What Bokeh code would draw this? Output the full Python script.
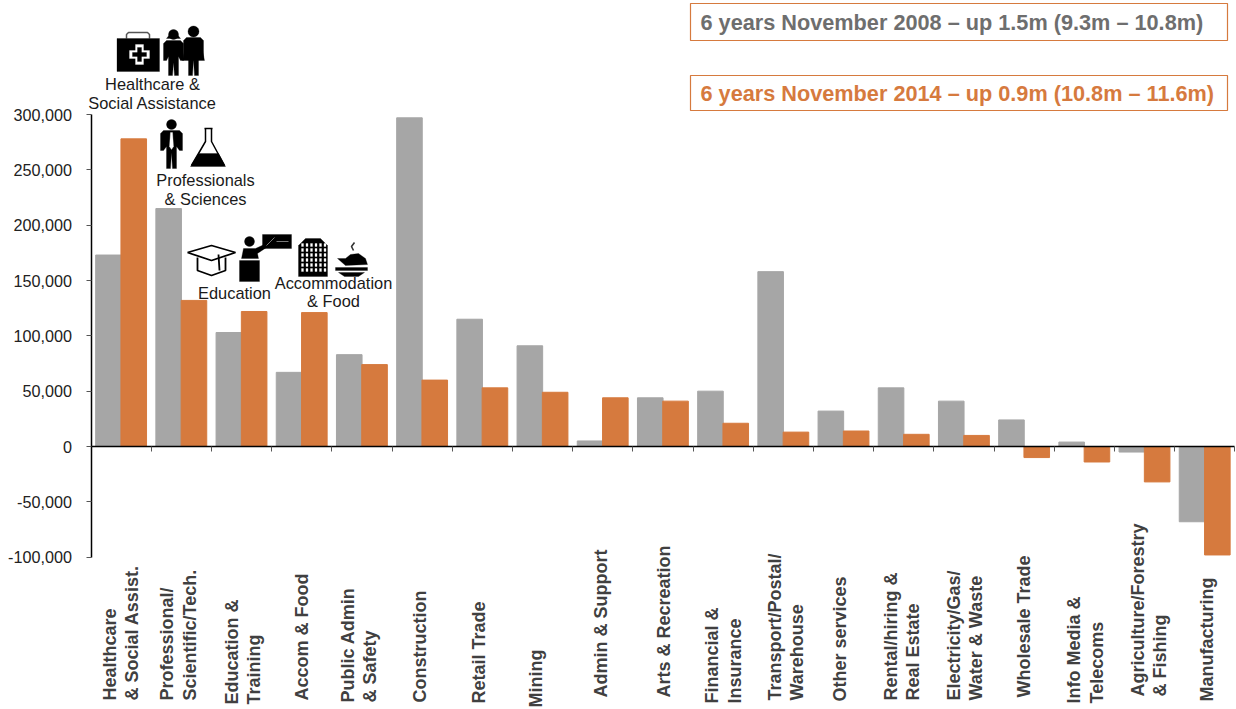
import math
from bokeh.core.properties import value
from bokeh.embed import file_html
from bokeh.models import FixedTicker, LinearAxis, NumeralTickFormatter, Range1d
from bokeh.plotting import figure
from bokeh.resources import INLINE

# ---------- data ----------
categories = ["Healthcare\n& Social Assist.", "Professional/\nScientific/Tech.", "Education &\nTraining",
              "Accom  & Food", "Public Admin\n& Safety", "Construction", "Retail Trade", "Mining",
              "Admin & Support", "Arts  & Recreation", "Financial &\nInsurance", "Transport/Postal/\nWarehouse",
              "Other services", "Rental/hiring &\nReal Estate", "Electricity/Gas/\nWater & Waste",
              "Wholesale Trade", "Info Media &\nTelecoms", "Agriculture/Forestry\n& Fishing", "Manufacturing"]
series_2008 = [173000, 215000, 103000, 67000, 83000, 297000, 115000, 91000, 5000, 44000,
               50000, 158000, 32000, 53000, 41000, 24000, 4000, -5000, -68000]
series_2014 = [278000, 132000, 122000, 121000, 74000, 60000, 53000, 49000, 44000, 41000,
               21000, 13000, 14000, 11000, 10000, -10000, -14000, -32000, -98000]
y_ticks = [-100000, -50000, 0, 50000, 100000, 150000, 200000, 250000, 300000]
box_texts = ["6 years November 2008 – up 1.5m (9.3m – 10.8m)", "6 years November 2014 – up 0.9m (10.8m – 11.6m)"]

# ---------- layout ----------
W, H = 1236, 709
STEP = 60.2            # page px per category
AX_X, ZERO_Y = 90.5, 446.0
PX_PER_UNIT = 332 / 300000
GRAY, ORANGE, INK = "#A6A6A6", "#D67A3E", "#404040"


def dx(px):
    return (px - AX_X) / STEP


def dy(py):
    return (ZERO_Y - py) / PX_PER_UNIT


p = figure(width=W, height=H, output_backend="svg", toolbar_location=None, min_border=0,
           x_range=Range1d(dx(0), dx(W)), y_range=Range1d(dy(H), dy(0)),
           x_axis_type=None, y_axis_type=None)
p.grid.visible = False
p.outline_line_color = None

idx = list(range(len(categories)))
p.vbar(x=[i + 0.29 for i in idx], top=series_2008, bottom=0, width=0.425, color=GRAY)
p.vbar(x=[i + 0.71 for i in idx], top=series_2014, bottom=0, width=0.425, color=ORANGE)

yax = LinearAxis(fixed_location=0, ticker=FixedTicker(ticks=y_ticks), bounds=(-100000, 300000),
                 formatter=NumeralTickFormatter(format="0,0"))
yax.axis_line_color = "black"
yax.axis_line_width = 1.5
yax.major_tick_in = 0
yax.major_tick_out = 5
yax.minor_tick_line_color = None
yax.major_tick_line_color = "#555555"
yax.major_label_standoff = 14
yax.major_label_text_font = "Liberation Sans"
yax.major_label_text_font_size = "16.2px"
yax.major_label_text_color = "#222222"
p.add_layout(yax, "left")

xax = LinearAxis(fixed_location=0, ticker=FixedTicker(ticks=list(range(len(categories) + 1))),
                 bounds=(0, len(categories)))
xax.axis_line_color = "black"
xax.axis_line_width = 1.5
xax.major_tick_in = 0
xax.major_tick_out = 5
xax.minor_tick_line_color = None
xax.major_tick_line_color = "#555555"
xax.major_label_overrides = {i: "" for i in range(len(categories) + 1)}
p.add_layout(xax, "below")

# rotated category labels: centre x of each line, start (bottom) of each label, page px
label_x = [(109, 131), (166, 189), (231, 253), (301,), (347, 369), (419,), (478,), (535,), (600,), (663,),
           (711, 734), (774, 796), (839,), (890, 912), (953, 975), (1023,), (1073, 1096), (1137, 1159), (1206,)]
label_bottom = [700, 700, 704, 700, 702, 702, 703, 707, 697, 697, 703, 700, 701, 700, 700, 697, 703, 696, 701]
tx, ty, tt = [], [], []
for cat, xs_, b in zip(categories, label_x, label_bottom):
    for line, x_ in zip(cat.split("\n"), xs_):
        tx.append(dx(x_)); ty.append(dy(b)); tt.append(line)
p.text(tx, ty, text=tt, angle=math.pi / 2, text_align="left", text_baseline="middle",
       text_font=value("Liberation Sans"), text_font_style="bold", text_font_size="18px", text_color=INK)

# header boxes
for (top, bottom, col, txt) in [(3, 40, "#6E6E6E", box_texts[0]), (75, 110, ORANGE, box_texts[1])]:
    p.quad(left=[dx(690)], right=[dx(1227)], top=[dy(top)], bottom=[dy(bottom)],
           fill_color="white", line_color=ORANGE, line_width=1.2)
    p.text([dx(700)], [dy((top + bottom) / 2)], text=[txt], text_align="left", text_baseline="middle",
           text_font=value("Liberation Sans"), text_font_style="bold", text_font_size="21.7px", text_color=col)

# annotation captions
cap = [("Healthcare &", 152, 83), ("Social Assistance", 152, 102), ("Professionals", 205, 179), ("& Sciences", 205, 198),
       ("Education", 234, 292), ("Accommodation", 333, 282), ("& Food", 333, 300)]
p.text([dx(c[1]) for c in cap], [dy(c[2]) for c in cap], text=[c[0] for c in cap], text_align="center",
       text_baseline="middle", text_font=value("Liberation Sans"), text_font_size="16.4px", text_color="#1a1a1a")


# ---------- pictograms, in page px ----------
def rect(x0, y0, x1, y1):
    return [(x0, y0), (x1, y0), (x1, y1), (x0, y1)]


def circ(cx, cy, r, n=20):
    return [(cx + r * math.cos(2 * math.pi * k / n), cy + r * math.sin(2 * math.pi * k / n)) for k in range(n)]


def fill(polys, color="black"):
    p.patches([[dx(a) for a, _ in q] for q in polys], [[dy(b) for _, b in q] for q in polys],
              fill_color=color, line_color=color, line_width=0.3)


def stroke(paths, color="black", w=1.6):
    p.multi_line([[dx(a) for a, _ in q] for q in paths], [[dy(b) for _, b in q] for q in paths],
                 line_color=color, line_width=w)


def person(cx, head_y, r, top, bottom, half):
    fill([circ(cx, head_y, r),
          [(cx - half, top + 3), (cx - half + 3, top), (cx + half - 3, top), (cx + half, top + 3),
           (cx + half, top + 20), (cx + half - 3, top + 20), (cx + 5, top + 16), (cx + 5, bottom),
           (cx + 1, bottom), (cx, top + 22), (cx - 1, bottom), (cx - 5, bottom), (cx - 5, top + 16),
           (cx - half + 3, top + 20), (cx - half, top + 20)]])


# medkit and couple
stroke([[(126, 38), (126, 34), (128, 32), (147, 32), (149, 34), (149, 38)]], "#555555", 1.5)
fill([rect(116.5, 38, 159, 71)])
fill([rect(135, 44, 143, 64), rect(129, 50, 149, 58)], "white")
fill([rect(137, 47, 141, 61), rect(132, 52, 146, 56)])
person(173, 34, 5, 40, 75, 10)
fill([[(166, 38), (180, 38), (176, 33), (170, 33)]])
person(193, 31, 5.5, 37, 75, 10)
fill([[(186, 40), (200, 40), (204, 60), (182, 60)]])
# professional and flask
person(171, 124, 5, 130, 168, 11)
fill([[(170, 132), (172, 132), (173, 146), (171, 149), (169, 146)]], "white")
stroke([[(204, 128), (212, 128)], [(205, 128), (205, 141), (191, 165)], [(211, 128), (211, 141), (224, 165)]], "black", 1.5)
fill([[(198, 153), (218, 153), (225, 166), (190, 166)]])
# graduation cap and teacher
stroke([[(187, 252), (211, 245), (235, 252), (211, 260), (187, 252)],
        [(197, 257), (197, 270), (211, 275), (225, 270), (225, 257)], [(218, 254), (219, 270)]], "black", 1.8)
fill([circ(249, 241, 5)])
fill([[(241, 258), (243, 248), (255, 248), (268, 242), (269, 245), (257, 253), (258, 258)], rect(239, 260, 259, 281)])
fill([rect(262, 234, 291, 248)])
stroke([[(266, 245), (274, 237)], [(276, 241), (288, 241)]], "#999999", 0.8)
# building and food
fill([[(298, 276), (298, 245), (305, 238), (320, 238), (327, 245), (327, 276)]])
fill([rect(301 + 4.5 * i, 243 + 5 * j, 303 + 4.5 * i, 246 + 5 * j) for i in range(6) for j in range(6)], "white")
fill([[(337, 258), (345, 258), (350, 254), (358, 253), (365, 258), (367, 264), (345, 265)]])
fill([rect(335, 267, 367, 270), [(338, 272), (364, 272), (358, 276), (344, 276)]])
stroke([[(353, 250), (351, 246), (354, 242)]], "#333333", 1.6)

open("out.html", "w").write(file_html(p, INLINE))
